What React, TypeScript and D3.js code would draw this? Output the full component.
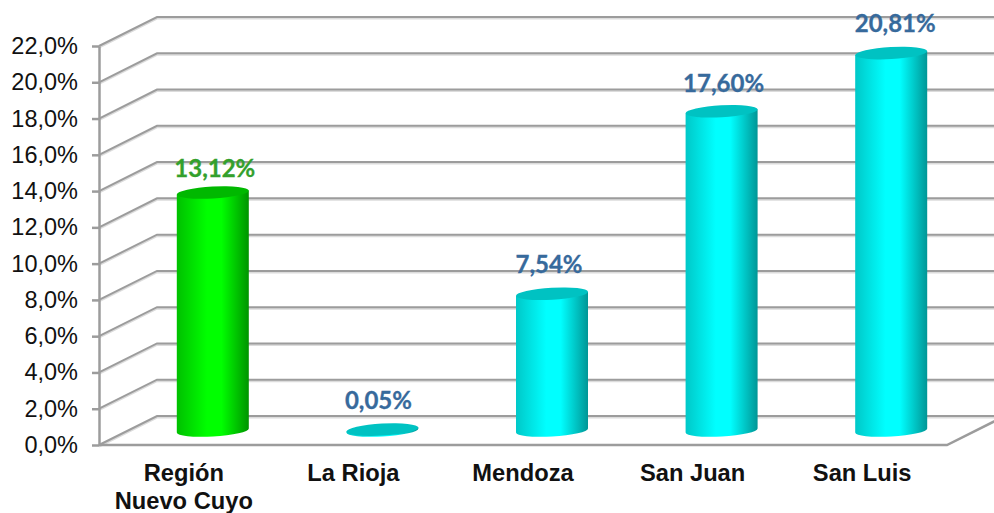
import * as d3 from "d3";
import { useEffect, useRef } from "react";

const categories = ["Región|Nuevo Cuyo", "La Rioja", "Mendoza", "San Juan", "San Luis"];
const values = [13.12, 0.05, 7.54, 17.6, 20.81];
const valueLabels = ["13,12%", "0,05%", "7,54%", "17,60%", "20,81%"];
const ticks = [0, 2, 4, 6, 8, 10, 12, 14, 16, 18, 20, 22];
const tickLabels = ["0,0%", "2,0%", "4,0%", "6,0%", "8,0%", "10,0%", "12,0%", "14,0%", "16,0%", "18,0%", "20,0%", "22,0%"];

const W = 994;
const H = 513;
// offset of the back wall of the fake 3D box
const depthX = 58;
const depthY = 29;
const rx = 36;
const ry = 6;
const tilt = -3.2;
// labels were hand-placed in the original
const nudgeX = [2, -4, -3, 2, 4];
const nudgeY = [-16, -21, -21, -19, -21];

export default function App() {
  const ref = useRef<SVGSVGElement>(null);

  useEffect(() => {
    const svg = d3.select(ref.current);
    svg.selectAll("*").remove();

    const x = d3.scaleBand().domain(categories).range([99, 947]);
    const y = d3.scaleLinear().domain([0, 22]).range([445, 46]);

    const defs = svg.append("defs");
    const gradient = (id: string, edgeL: string, mid: string, edgeR: string) => {
      const g = defs.append("linearGradient").attr("id", id);
      g.append("stop").attr("offset", "0%").attr("stop-color", edgeL);
      g.append("stop").attr("offset", "42%").attr("stop-color", mid);
      g.append("stop").attr("offset", "62%").attr("stop-color", mid);
      g.append("stop").attr("offset", "100%").attr("stop-color", edgeR);
    };
    gradient("cyl-green", "#00c000", "#00ff00", "#009400");
    gradient("cyl-cyan", "#00c8c8", "#00ffff", "#009696");

    const wall = (v: number) =>
      `M${x.range()[0]},${y(v)}L${x.range()[0] + depthX},${y(v) - depthY}L${W},${y(v) - depthY}`;

    // soft shadow under the grid lines, then the lines
    svg.append("g")
      .selectAll("path")
      .data(ticks)
      .join("path")
      .attr("d", (d) => wall(d))
      .attr("transform", "translate(0,1.5)")
      .attr("fill", "none")
      .attr("stroke", "#dcdcdc")
      .attr("stroke-width", 2);
    svg.append("g")
      .selectAll("path")
      .data(ticks)
      .join("path")
      .attr("d", (d) => wall(d))
      .attr("fill", "none")
      .attr("stroke", "#9c9c9c")
      .attr("stroke-width", 2);

    // floor front and right edge
    svg.append("path")
      .attr("d", `M99,${y(0)}L947,${y(0)}L${947 + depthX},${y(0) - depthY}`)
      .attr("fill", "none")
      .attr("stroke", "#9c9c9c")
      .attr("stroke-width", 2.5);

    // value axis
    const yAxis = svg.append("g")
      .attr("transform", "translate(99,0)")
      .call(
        d3.axisLeft(y)
          .tickValues(ticks)
          .tickFormat((_, i) => tickLabels[i])
          .tickSize(7)
          .tickSizeOuter(0)
          .tickPadding(14)
      );
    yAxis.selectAll("path,line").attr("stroke", "#9c9c9c").attr("stroke-width", 2.5);
    yAxis.selectAll("text")
      .attr("font-family", "Liberation Sans")
      .attr("font-size", 23.5)
      .attr("fill", "#111");

    // category labels
    const cat = svg.append("g")
      .selectAll("text")
      .data(categories)
      .join("text")
      .attr("text-anchor", "middle")
      .attr("font-family", "Liberation Sans")
      .attr("font-weight", "bold")
      .attr("font-size", 23.7)
      .attr("fill", "#111");
    cat.each(function (d) {
      const cx = x(d)! + x.bandwidth() / 2;
      d3.select(this)
        .selectAll("tspan")
        .data(d.split("|"))
        .join("tspan")
        .attr("x", cx)
        .attr("y", (_, i) => 481 + i * 28)
        .text((t) => t);
    });

    // cylinders
    const bars = svg.append("g")
      .selectAll("g")
      .data(categories)
      .join("g")
      .attr("transform", (d) => `translate(${x(d)! + x.bandwidth() / 2 + depthX / 2},0)`);

    const base = y(0) - depthY / 2;
    const dy = rx * Math.sin((tilt * Math.PI) / 180);

    bars.append("path")
      .attr("d", (_, i) => {
        const top = y(values[i]) - depthY / 2;
        return `M${-rx},${top - dy}L${rx},${top + dy}L${rx},${base + dy}A${rx},${ry} ${tilt} 0 1 ${-rx},${base - dy}Z`;
      })
      .attr("fill", (_, i) => (i === 0 ? "url(#cyl-green)" : "url(#cyl-cyan)"));

    bars.append("ellipse")
      .attr("rx", rx)
      .attr("ry", ry)
      .attr("transform", (_, i) => `translate(0,${y(values[i]) - depthY / 2}) rotate(${tilt})`)
      .attr("fill", (_, i) => (i === 0 ? "#00b800" : "#00c2c2"));

    bars.append("text")
      .attr("x", (_, i) => nudgeX[i])
      .attr("y", (_, i) => y(values[i]) - depthY / 2 + nudgeY[i])
      .attr("text-anchor", "middle")
      .attr("font-family", "Lato")
      .attr("font-weight", "bold")
      .attr("font-size", 24)
      .attr("fill", (_, i) => (i === 0 ? "#33a02c" : "#376a9c"))
      .attr("stroke", (_, i) => (i === 0 ? "#33a02c" : "#376a9c"))
      .attr("stroke-width", 0.3)
      .text((_, i) => valueLabels[i]);
  }, []);

  return (
    <svg
      ref={ref}
      width={W}
      height={H}
      style={{ position: "absolute", left: 0, top: 0, background: "#fff" }}
    />
  );
}
